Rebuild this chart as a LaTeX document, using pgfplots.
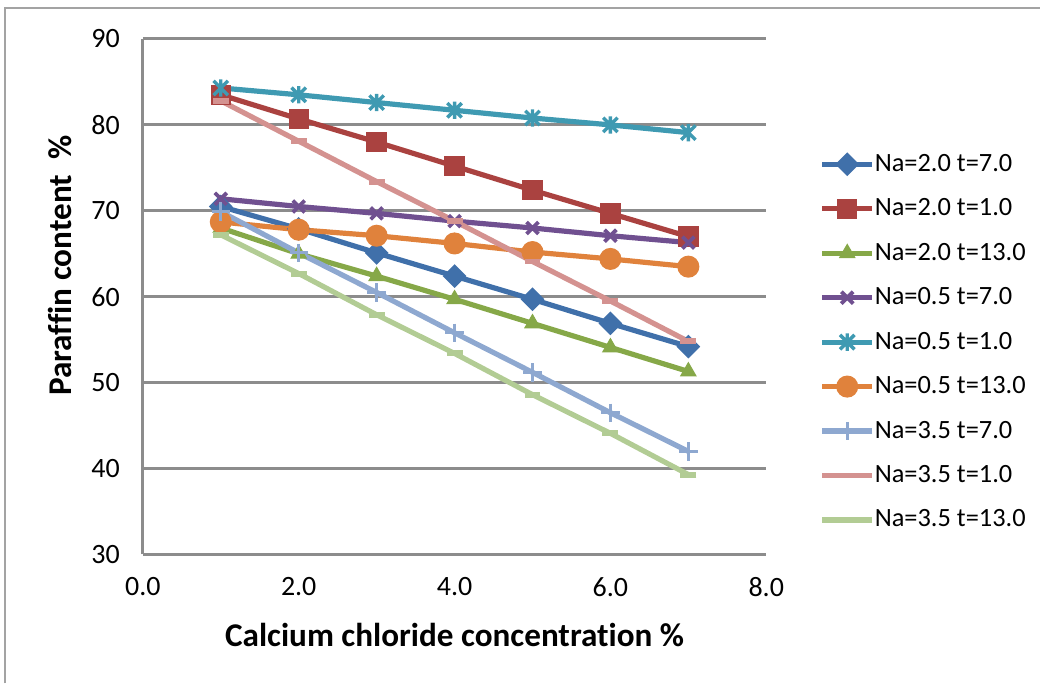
\documentclass[border=0pt]{standalone}
\usepackage{fontspec}
\setmainfont{Carlito}[Ligatures={NoCommon}]
\usepackage{pgfplots}
\usepackage{pgfplotstable}
\pgfplotsset{compat=1.18}

\definecolor{sBlue}{HTML}{4070AA}
\definecolor{sRed}{HTML}{AA4240}
\definecolor{sGreen}{HTML}{86A848}
\definecolor{sPurple}{HTML}{705090}
\definecolor{sTeal}{HTML}{3F9AB2}
\definecolor{sOrange}{HTML}{E0823C}
\definecolor{sLBlue}{HTML}{8EA8D0}
\definecolor{sPink}{HTML}{D49290}
\definecolor{sLGreen}{HTML}{B2CC94}
\definecolor{gridgray}{HTML}{8C8C8C}

% star marker: an x with a vertical stroke through it
\pgfdeclareplotmark{xstar}{%
  \pgfpathmoveto{\pgfqpoint{-\pgfplotmarksize}{-\pgfplotmarksize}}%
  \pgfpathlineto{\pgfqpoint{\pgfplotmarksize}{\pgfplotmarksize}}%
  \pgfpathmoveto{\pgfqpoint{-\pgfplotmarksize}{\pgfplotmarksize}}%
  \pgfpathlineto{\pgfqpoint{\pgfplotmarksize}{-\pgfplotmarksize}}%
  \pgfpathmoveto{\pgfqpoint{0pt}{-1.2\pgfplotmarksize}}%
  \pgfpathlineto{\pgfqpoint{0pt}{1.2\pgfplotmarksize}}%
  \pgfusepathqstroke}

% paraffin content (%) against CaCl2 concentration (%)
\pgfplotstableread{
x   naAtA naAtB naAtC naBtA naBtB naBtC naCtA naCtB naCtC
1   70.5  83.5  68.0  71.4  84.3  68.7  69.9  82.8  67.2
2   67.9  80.7  65.0  70.5  83.5  67.8  65.1  78.1  62.7
3   65.1  78.0  62.4  69.7  82.6  67.1  60.5  73.4  57.9
4   62.4  75.2  59.7  68.8  81.7  66.2  55.8  68.8  53.4
5   59.7  72.4  56.9  68.0  80.8  65.2  51.2  64.1  48.6
6   56.9  69.7  54.1  67.1  80.0  64.4  46.5  59.5  44.1
7   54.2  67.0  51.3  66.3  79.1  63.5  42.0  54.8  39.3
}\paraffin

\begin{document}
\begin{tikzpicture}[x=0.5pt,y=-0.5pt]
\path (0,0) rectangle (1041,684);
\draw[gridgray!80, line width=1pt] (5,684) -- (5,8) -- (1041,8);
\begin{axis}[
  at={(71.5pt,-277.5pt)}, anchor=south west,
  scale only axis, width=312pt, height=258pt,
  xmin=0, xmax=8, ymin=30, ymax=90,
  xtick={0,2,...,8}, ytick={30,40,...,90},
  axis lines*=left,
  axis line style={draw=gridgray, line width=1.5pt, -},
  ymajorgrids, grid style={draw=gridgray, line width=1.5pt},
  major tick length=0pt,
  /pgf/number format/assume math mode=true,
  tick label style={font=\fontsize{14}{16}\selectfont},
  xticklabel style={/pgf/number format/fixed, /pgf/number format/fixed zerofill, /pgf/number format/precision=1, yshift=-8pt},
  yticklabel style={xshift=-8pt},
  every axis x label/.style={at={(axis description cs:0.5,-0.156)}, anchor=center},
  every axis y label/.style={at={(axis description cs:-0.133,0.56)}, anchor=center, rotate=90},
  label style={font=\fontsize{16.6}{19}\selectfont\bfseries},
  xlabel={Calcium chloride concentration \%},
  ylabel={Paraffin content\ \ \%},
  legend style={at={(axis description cs:1.085,0.779)}, anchor=north west,
    draw=none, fill=none, inner sep=0pt, row sep=11.25pt,
    font=\fontsize{13.2}{15}\selectfont,
    nodes={inner sep=0pt, text height=9pt, text depth=2pt}},
  legend cell align=left,
  /tikz/every even column/.append style={column sep=2pt},
  legend image code/.code={%
    \draw[mark repeat=2, mark phase=2] plot coordinates {(0pt,0pt) (12.5pt,0pt) (25pt,0pt)};},
  every axis plot/.append style={line width=2.6pt},
]
\addplot[sBlue, mark=square*, mark options={rotate=45, solid}, mark size=2.9pt] table[x=x, y=naAtA] {\paraffin};
\addlegendentry{Na=2.0 t=7.0}
\addplot[sRed, mark=square*, mark size=3.8pt] table[x=x, y=naAtB] {\paraffin};
\addlegendentry{Na=2.0 t=1.0}
\addplot[sGreen, mark=triangle*, mark size=4.4pt, mark options={line width=0.5pt}] table[x=x, y=naAtC] {\paraffin};
\addlegendentry{Na=2.0 t=13.0}
\addplot[sPurple, mark=x, mark size=4.2pt, mark options={line width=1.9pt}] table[x=x, y=naBtA] {\paraffin};
\addlegendentry{Na=0.5 t=7.0}
\addplot[sTeal, mark=xstar, mark size=3.6pt, mark options={line width=1.7pt}] table[x=x, y=naBtB] {\paraffin};
\addlegendentry{Na=0.5 t=1.0}
\addplot[sOrange, mark=*, mark size=4.2pt] table[x=x, y=naBtC] {\paraffin};
\addlegendentry{Na=0.5 t=13.0}
\addplot[sLBlue, mark=+, mark size=4.6pt, mark options={line width=1.5pt}] table[x=x, y=naCtA] {\paraffin};
\addlegendentry{Na=3.5 t=7.0}
\addplot[sPink, mark=-, mark size=4pt, mark options={line width=3pt}, legend image post style={mark=none}] table[x=x, y=naCtB] {\paraffin};
\addlegendentry{Na=3.5 t=1.0}
\addplot[sLGreen, mark=-, mark size=4pt, mark options={line width=3pt}, legend image post style={mark=none}] table[x=x, y=naCtC] {\paraffin};
\addlegendentry{Na=3.5 t=13.0}
\end{axis}
\end{tikzpicture}
\end{document}
